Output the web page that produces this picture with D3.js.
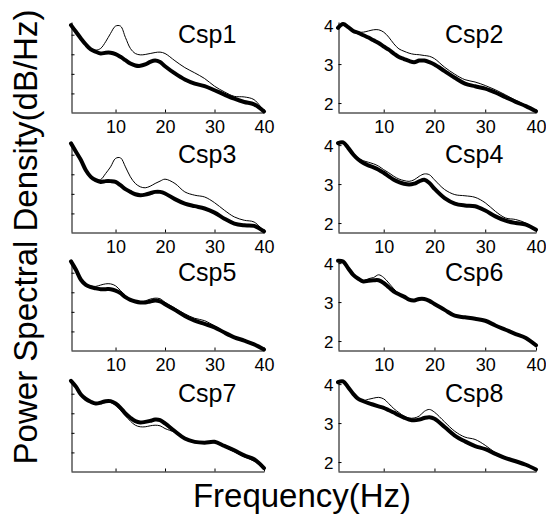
<!DOCTYPE html>
<html>
<head>
<meta charset="utf-8">
<script src="https://cdn.jsdelivr.net/npm/d3@7"></script>
<style>
  body { margin: 0; background: #fff; }
  svg { display: block; font-family: "Liberation Sans", Arial, sans-serif; }
</style>
</head>
<body>
<script>
// frequenze campionate (Hz)
var freqs = [1,2,3,4,5,6,7,8,9,10,11,12,13,14,15,16,17,18,19,20,22,24,26,28,30,32,34,36,38,40];

// colonna sinistra (Csp1, Csp3, Csp5, Csp7) - asse y senza etichette
var csp1Bold = [4.49,4.15,3.81,3.50,3.25,3.13,3.04,3.08,3.08,3.01,2.87,2.70,2.53,2.43,2.41,2.48,2.61,2.68,2.60,2.39,2.02,1.71,1.50,1.37,1.16,0.94,0.73,0.56,0.44,0.08];
var csp1Thin = [4.53,4.20,3.86,3.55,3.30,3.21,3.30,3.64,4.07,4.44,4.44,3.86,3.30,3.04,2.97,2.99,3.04,3.09,3.11,3.04,2.67,2.32,2.05,1.76,1.37,1.08,0.85,0.82,0.68,0.08];
var csp3Bold = [4.58,4.15,3.73,3.21,2.87,2.70,2.61,2.65,2.65,2.61,2.44,2.24,2.10,1.98,1.93,1.96,2.03,2.10,2.10,2.02,1.73,1.50,1.37,1.25,1.04,0.73,0.48,0.39,0.36,0.08];
var csp3Thin = [4.60,4.19,3.76,3.25,2.90,2.73,2.73,3.04,3.38,3.81,3.84,3.38,2.87,2.53,2.36,2.31,2.39,2.53,2.65,2.75,2.53,2.10,1.93,1.84,1.55,1.16,0.82,0.65,0.56,0.08];
var csp5Bold = [4.58,4.15,3.64,3.38,3.26,3.20,3.16,3.16,3.16,3.09,2.96,2.75,2.61,2.53,2.48,2.48,2.53,2.58,2.53,2.39,2.10,1.79,1.55,1.38,1.21,0.94,0.70,0.53,0.34,0.08];
var csp5Thin = [4.60,4.19,3.67,3.42,3.33,3.30,3.37,3.43,3.43,3.33,3.09,2.82,2.65,2.53,2.48,2.56,2.65,2.70,2.67,2.49,2.19,1.90,1.67,1.55,1.28,0.99,0.70,0.53,0.34,0.08];
var csp7Bold = [4.66,4.36,3.96,3.73,3.59,3.50,3.54,3.62,3.62,3.50,3.28,2.99,2.77,2.60,2.53,2.56,2.61,2.68,2.65,2.48,2.08,1.71,1.54,1.50,1.54,1.33,1.11,0.85,0.65,0.20];
var csp7Thin = [4.66,4.36,3.96,3.69,3.55,3.47,3.50,3.55,3.55,3.42,3.16,2.87,2.60,2.39,2.31,2.31,2.36,2.39,2.36,2.22,2.02,1.67,1.50,1.49,1.49,1.28,1.02,0.77,0.55,0.14];

// colonna destra (Csp2, Csp4, Csp6, Csp8)
var csp2Bold = [3.93,4.03,3.95,3.85,3.80,3.74,3.68,3.61,3.54,3.45,3.37,3.27,3.18,3.13,3.08,3.05,3.09,3.09,3.05,2.99,2.82,2.65,2.50,2.43,2.37,2.27,2.15,2.03,1.92,1.79];
var csp2Thin = [3.95,4.05,3.95,3.86,3.82,3.82,3.85,3.88,3.88,3.82,3.69,3.52,3.39,3.33,3.28,3.25,3.24,3.22,3.20,3.14,2.92,2.74,2.60,2.54,2.45,2.34,2.21,2.07,1.94,1.79];
var csp4Bold = [4.05,4.07,3.93,3.76,3.63,3.54,3.48,3.43,3.37,3.29,3.20,3.11,3.05,3.01,2.99,3.01,3.07,3.11,3.03,2.88,2.64,2.50,2.45,2.43,2.32,2.17,2.06,2.00,1.96,1.83];
var csp4Thin = [4.05,4.08,3.97,3.80,3.67,3.60,3.56,3.52,3.46,3.37,3.29,3.20,3.13,3.09,3.07,3.11,3.20,3.26,3.24,3.11,2.86,2.73,2.70,2.66,2.52,2.30,2.13,2.09,2.00,1.83];
var csp6Bold = [4.06,4.04,3.87,3.70,3.60,3.53,3.55,3.56,3.56,3.49,3.38,3.27,3.20,3.14,3.06,3.04,3.08,3.08,3.03,2.95,2.80,2.65,2.61,2.57,2.52,2.40,2.29,2.18,2.08,1.89];
var csp6Thin = [4.06,4.04,3.87,3.70,3.60,3.53,3.60,3.63,3.70,3.63,3.49,3.34,3.22,3.14,3.08,3.05,3.08,3.08,3.03,2.96,2.81,2.66,2.61,2.57,2.52,2.40,2.29,2.18,2.08,1.89];
var csp8Bold = [4.05,4.07,3.92,3.75,3.62,3.56,3.51,3.47,3.43,3.39,3.33,3.27,3.20,3.14,3.09,3.07,3.09,3.13,3.15,3.11,2.90,2.68,2.53,2.41,2.33,2.21,2.10,2.02,1.93,1.81];
var csp8Thin = [4.07,4.08,3.92,3.75,3.62,3.58,3.61,3.64,3.66,3.62,3.50,3.37,3.27,3.18,3.13,3.13,3.18,3.30,3.35,3.28,3.03,2.79,2.64,2.58,2.43,2.24,2.10,2.02,1.93,1.81];

var xTicks = [10, 20, 30, 40];
var leftYTicks = [1, 2, 3, 4];
var rightYTicks = [2, 3, 4];

var panels = [
  {name: "Csp1", bold: csp1Bold, thin: csp1Thin, col: 0, row: 0},
  {name: "Csp2", bold: csp2Bold, thin: csp2Thin, col: 1, row: 0},
  {name: "Csp3", bold: csp3Bold, thin: csp3Thin, col: 0, row: 1},
  {name: "Csp4", bold: csp4Bold, thin: csp4Thin, col: 1, row: 1},
  {name: "Csp5", bold: csp5Bold, thin: csp5Thin, col: 0, row: 2},
  {name: "Csp6", bold: csp6Bold, thin: csp6Thin, col: 1, row: 2},
  {name: "Csp7", bold: csp7Bold, thin: csp7Thin, col: 0, row: 3},
  {name: "Csp8", bold: csp8Bold, thin: csp8Thin, col: 1, row: 3}
];

var width = 546, height = 518;
var colX = [[71, 264], [338, 536]];
var rowBottom = [112, 232, 350, 471];
var panelH = 90;

var svg = d3.select("body").append("svg")
    .attr("width", width)
    .attr("height", height);

panels.forEach(function(p) {
    var bottom = rowBottom[p.row];
    var x = d3.scaleLinear().domain([1, 40]).range(colX[p.col]);
    var y = d3.scaleLinear()
        .domain(p.col === 0 ? [0.05, 4.65] : [1.77, 4.08])
        .range([bottom, bottom - panelH]);

    var g = svg.append("g");

    // asse x
    var xAxis = d3.axisBottom(x).tickValues(xTicks)
        .tickSizeInner(-3).tickSizeOuter(0).tickPadding(8);
    if (p.row === 3) xAxis.tickFormat("");
    var gx = g.append("g")
        .attr("transform", "translate(0," + (bottom + 0.5) + ")")
        .call(xAxis);
    gx.selectAll("text").attr("font-size", 18).attr("fill", "#000");

    // asse y
    var yAxis = d3.axisLeft(y).tickSizeInner(-3).tickSizeOuter(0).tickPadding(5);
    if (p.col === 0) yAxis.tickValues(leftYTicks).tickFormat("");
    else yAxis.tickValues(rightYTicks).tickFormat(d3.format("d"));
    var gy = g.append("g")
        .attr("transform", "translate(" + (colX[p.col][0] + 0.5) + ",0)")
        .call(yAxis);
    gy.selectAll("text").attr("font-size", 17).attr("fill", "#000").attr("dy", "0.36em");

    g.selectAll(".domain, .tick line").attr("stroke", "#000").attr("stroke-width", 1);

    var line = d3.line()
        .x(function(d, i) { return x(freqs[i]); })
        .y(function(d) { return y(d); })
        .curve(d3.curveCatmullRom.alpha(0.5));

    g.append("path")
        .attr("d", line(p.thin))
        .attr("fill", "none")
        .attr("stroke", "#000")
        .attr("stroke-width", 1);

    g.append("path")
        .attr("d", line(p.bold))
        .attr("fill", "none")
        .attr("stroke", "#000")
        .attr("stroke-width", 4)
        .attr("stroke-linejoin", "round")
        .attr("stroke-linecap", "round");

    g.append("text")
        .attr("x", colX[p.col][0] + 107)
        .attr("y", bottom - 69)
        .attr("font-size", 25)
        .text(p.name);
});

// titoli degli assi
svg.append("text")
    .attr("x", 302)
    .attr("y", 507)
    .attr("text-anchor", "middle")
    .attr("font-size", 33)
    .text("Frequency(Hz)");

svg.append("text")
    .attr("transform", "translate(37,237) rotate(-90)")
    .attr("text-anchor", "middle")
    .attr("font-size", 33)
    .text("Power Spectral Density(dB/Hz)");
</script>
</body>
</html>
